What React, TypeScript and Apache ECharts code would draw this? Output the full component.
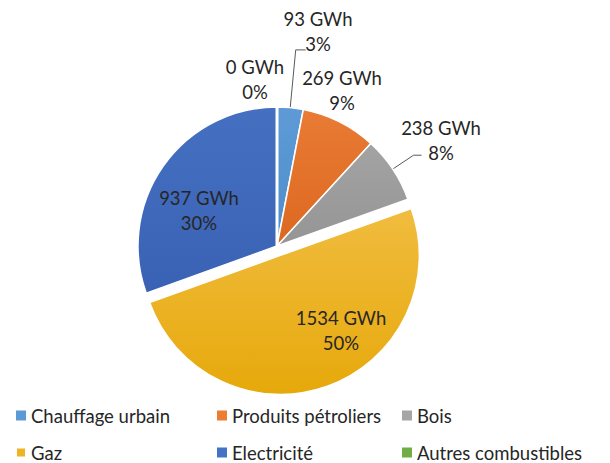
import React, { useEffect, useRef } from "react";
import * as echarts from "echarts";

// Consumption by energy source (GWh) and the rounded shares shown on the labels
const sources = [
  "Chauffage urbain",
  "Produits pétroliers",
  "Bois",
  "Gaz",
  "Electricité",
  "Autres combustibles",
];
const energyGWh = [93, 269, 238, 1534, 937, 0];
const sharePct = [3, 9, 8, 50, 30, 0];

// Slice fills: top and bottom stop of a soft vertical gradient, plus flat legend swatches
const fillTop = ["#5E9BD6", "#E97B34", "#A3A3A3", "#F1BC3F", "#4570C2", "#72AE4A"];
const fillBottom = ["#4D8DCB", "#DC6820", "#959595", "#E6A90B", "#3A62B4", "#62A03C"];
const swatch = ["#5B9BD5", "#ED7D31", "#A5A5A5", "#F0B323", "#4472C4", "#70AD47"];

// The pulled-out slice
const exploded = "Gaz";

// Label block centres (px) for each slice, in data order
const labelSpots: [number, number][] = [
  [318, 31.5],
  [342, 90],
  [441, 140],
  [341, 330.5],
  [199, 210],
  [255, 79],
];
// Leader lines: radial run out of the slice, then a short horizontal tail (0 = none)
const leaderRun = [58, 0, 25, 0, 0, 0];
const leaderTail = [10, 0, 8, 0, 0, 0];

const FONT = "Lato, 'Noto Sans', sans-serif";
const TEXT = "#262626";
const CENTER: [number, number] = [277, 246];
const RADIUS = 139;
const PULL = 10;

export default function App() {
  const ref = useRef<HTMLDivElement>(null);

  useEffect(() => {
    document.body.style.margin = "0";
    if (!ref.current) return;
    const chart = echarts.init(ref.current, undefined, { renderer: "svg" });

    const total = energyGWh.reduce((a, b) => a + b, 0);
    // mid angle of each slice, clockwise from 12 o'clock
    const midAngles = energyGWh.map((v, i) => {
      const before = energyGWh.slice(0, i).reduce((a, b) => a + b, 0);
      return ((before + v / 2) / total) * Math.PI * 2;
    });
    const pullIdx = sources.indexOf(exploded);
    const pulledCenter = [
      CENTER[0] + Math.sin(midAngles[pullIdx]) * PULL,
      CENTER[1] - Math.cos(midAngles[pullIdx]) * PULL,
    ];

    const gradient = (i: number) =>
      new echarts.graphic.LinearGradient(0, 0, 0, 1, [
        { offset: 0, color: fillTop[i] },
        { offset: 1, color: fillBottom[i] },
      ]);
    const hidden = { color: "rgba(0,0,0,0)", borderColor: "rgba(0,0,0,0)", borderWidth: 0 };

    // main disc: every slice but the pulled one, plus all labels
    const mainData = sources.map((name, i) => ({
      name,
      value: energyGWh[i],
      itemStyle:
        i === pullIdx
          ? hidden
          : energyGWh[i] === 0
          ? { color: gradient(i), borderWidth: 3 }
          : { color: gradient(i) },
      labelLine: { show: leaderRun[i] > 0 },
    }));
    // pulled disc: only the exploded slice is painted
    const pulledData = sources.map((name, i) => ({
      name,
      value: energyGWh[i],
      itemStyle: i === pullIdx ? { color: gradient(i) } : hidden,
    }));

    const legendText = {
      color: TEXT,
      fontFamily: FONT,
      fontSize: 18.5,
      lineHeight: 18,
    };
    const legendCol = (left: number, idx: number[]) => ({
      orient: "vertical" as const,
      left,
      top: 406,
      padding: 0,
      itemWidth: 10,
      itemHeight: 10,
      itemGap: 18,
      icon: "rect",
      selectedMode: false,
      textStyle: legendText,
      data: idx.map((i) => ({ name: sources[i], itemStyle: { color: swatch[i] } })),
    });

    chart.setOption({
      animation: false,
      backgroundColor: "#ffffff",
      legend: [legendCol(15, [0, 3]), legendCol(217, [1, 4]), legendCol(402, [2, 5])],
      series: [
        {
          type: "pie",
          silent: true,
          center: pulledCenter,
          radius: RADIUS,
          startAngle: 90,
          clockwise: true,
          itemStyle: { borderColor: "#ffffff", borderWidth: 1.5 },
          label: { show: false },
          labelLine: { show: false },
          data: pulledData,
        },
        {
          type: "pie",
          center: CENTER,
          radius: RADIUS,
          startAngle: 90,
          clockwise: true,
          avoidLabelOverlap: false,
          itemStyle: { borderColor: "#ffffff", borderWidth: 1.5 },
          emphasis: { disabled: true },
          label: {
            show: true,
            position: "outside",
            color: TEXT,
            fontFamily: FONT,
            fontSize: 18.5,
            lineHeight: 25,
            align: "center",
            formatter: (p: any) => `${p.value} GWh\n${sharePct[p.dataIndex]}%`,
          },
          labelLine: {
            show: false,
            lineStyle: { color: "#595959", width: 1 },
          },
          labelLayout: (p: any) => {
            const i = p.dataIndex;
            const [x, y] = labelSpots[i];
            const out: any = { x, y, align: "center", verticalAlign: "middle" };
            if (leaderRun[i] > 0) {
              const a = midAngles[i];
              const dx = Math.sin(a);
              const dy = -Math.cos(a);
              const p0 = [CENTER[0] + dx * RADIUS, CENTER[1] + dy * RADIUS];
              const p1 = [p0[0] + dx * leaderRun[i], p0[1] + dy * leaderRun[i]];
              const p2 = [p1[0] + leaderTail[i], p1[1]];
              out.labelLinePoints = [p0, p1, p2];
            }
            return out;
          },
          data: mainData,
        },
      ],
    });

    return () => chart.dispose();
  }, []);

  return (
    <div
      ref={ref}
      style={{ position: "absolute", left: 0, top: 0, width: 610, height: 463 }}
    />
  );
}
